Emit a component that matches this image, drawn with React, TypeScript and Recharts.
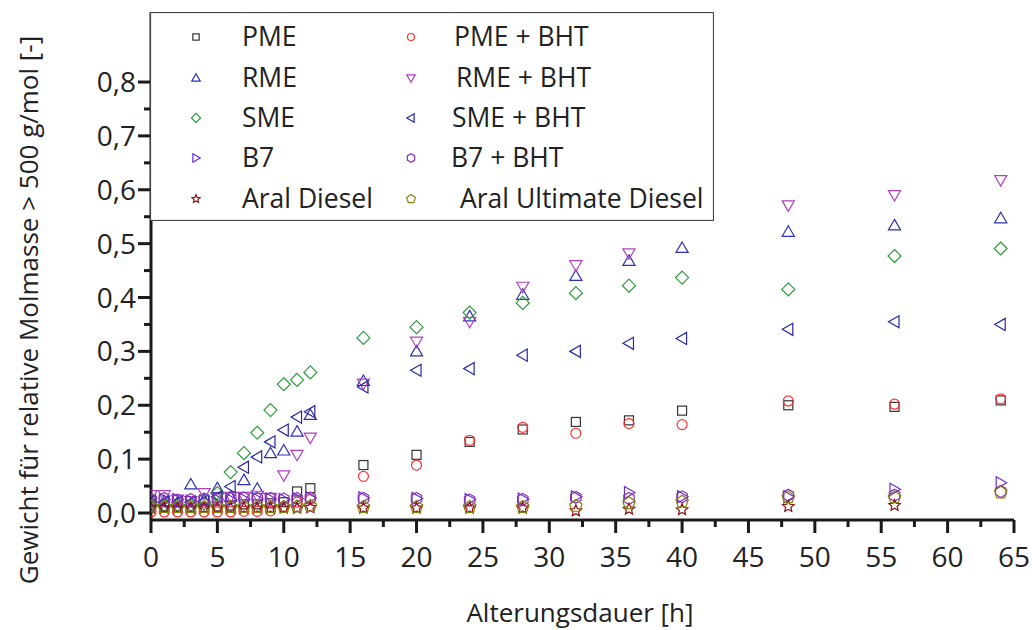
import { ScatterChart, Scatter, XAxis, YAxis } from 'recharts'

const TIME = [0, 1, 2, 3, 4, 5, 6, 7, 8, 9, 10, 11, 12, 16, 20, 24, 28, 32, 36, 40, 48, 56, 64]

const PME = [0.012, 0.012, 0.01, 0.01, 0.01, 0.012, 0.014, 0.016, 0.016, 0.018, 0.02, 0.04, 0.046, 0.089, 0.108, 0.132, 0.155, 0.169, 0.172, 0.19, 0.2, 0.197, 0.209]
const PME_BHT = [0.002, 0.002, 0.002, 0.002, 0.002, 0.002, 0.002, 0.003, 0.003, 0.004, 0.012, 0.02, 0.025, 0.068, 0.089, 0.135, 0.159, 0.148, 0.166, 0.164, 0.208, 0.202, 0.212]
const RME = [0.022, 0.022, 0.02, 0.053, 0.024, 0.046, 0.03, 0.061, 0.045, 0.111, 0.116, 0.151, 0.182, 0.245, 0.3, 0.365, 0.405, 0.44, 0.468, 0.492, 0.522, 0.534, 0.547]
const RME_BHT = [0.033, 0.033, 0.025, 0.022, 0.037, 0.028, 0.03, 0.03, 0.032, 0.028, 0.07, 0.108, 0.14, 0.24, 0.318, 0.355, 0.42, 0.46, 0.482, null, 0.571, 0.59, 0.618]
const SME = [0.02, 0.015, 0.015, 0.015, 0.018, 0.037, 0.076, 0.111, 0.149, 0.191, 0.239, 0.247, 0.261, 0.325, 0.345, 0.372, 0.39, 0.408, 0.422, 0.437, 0.415, 0.477, 0.491]
const SME_BHT = [0.022, 0.02, 0.02, 0.02, 0.022, 0.03, 0.049, 0.085, 0.104, 0.132, 0.154, 0.178, 0.188, 0.234, 0.265, 0.268, 0.293, 0.3, 0.315, 0.324, 0.341, 0.355, 0.35]
const B7 = [0.028, 0.025, 0.025, 0.022, 0.022, 0.025, 0.025, 0.026, 0.026, 0.026, 0.025, 0.027, 0.028, 0.028, 0.027, 0.025, 0.026, 0.03, 0.038, 0.03, 0.03, 0.044, 0.056]
const B7_BHT = [0.025, 0.027, 0.024, 0.025, 0.026, 0.025, 0.027, 0.028, 0.027, 0.027, 0.026, 0.027, 0.028, 0.027, 0.027, 0.024, 0.025, 0.029, 0.027, 0.03, 0.033, 0.033, 0.04]
const ARAL = [0.009, 0.009, 0.009, 0.009, 0.009, 0.009, 0.009, 0.009, 0.009, 0.009, 0.009, 0.009, 0.01, 0.009, 0.009, 0.009, 0.009, 0.004, 0.007, 0.006, 0.012, 0.014, null]
const ARAL_ULT = [0.012, 0.011, 0.011, 0.011, 0.011, 0.011, 0.011, 0.011, 0.011, 0.011, 0.011, 0.012, 0.013, 0.011, 0.011, 0.011, 0.011, 0.013, 0.018, 0.021, 0.029, 0.029, 0.038]

const X_TICKS = [0, 2.5, 5, 7.5, 10, 12.5, 15, 17.5, 20, 22.5, 25, 27.5, 30, 32.5, 35, 37.5, 40, 42.5, 45, 47.5, 50, 52.5, 55, 57.5, 60, 62.5, 65]
const Y_TICKS = [0, 0.05, 0.1, 0.15, 0.2, 0.25, 0.3, 0.35, 0.4, 0.45, 0.5, 0.55, 0.6, 0.65, 0.7, 0.75, 0.8]

type Kind = 'square' | 'circle' | 'up' | 'down' | 'diamond' | 'left' | 'right' | 'hexagon' | 'star' | 'pentagon'

const SERIES: { name: string; values: (number | null)[]; kind: Kind; color: string }[] = [
  { name: 'PME', values: PME, kind: 'square', color: '#333333' },
  { name: 'PME + BHT', values: PME_BHT, kind: 'circle', color: '#ff3030' },
  { name: 'RME', values: RME, kind: 'up', color: '#3030b0' },
  { name: 'RME + BHT', values: RME_BHT, kind: 'down', color: '#b040c0' },
  { name: 'SME', values: SME, kind: 'diamond', color: '#2e9a3e' },
  { name: 'SME + BHT', values: SME_BHT, kind: 'left', color: '#2828a0' },
  { name: 'B7', values: B7, kind: 'right', color: '#6a2ed0' },
  { name: 'B7 + BHT', values: B7_BHT, kind: 'hexagon', color: '#8a30b0' },
  { name: 'Aral Diesel', values: ARAL, kind: 'star', color: '#8b1010' },
  { name: 'Aral Ultimate Diesel', values: ARAL_ULT, kind: 'pentagon', color: '#888010' },
]

const FONT = '"Open Sans", sans-serif'
const AXIS = '#1a1a1a'

function poly(cx: number, cy: number, r: number, n: number, start: number, inner = 0) {
  const pts: string[] = []
  const count = inner ? n * 2 : n
  for (let i = 0; i < count; i++) {
    const rad = inner && i % 2 === 1 ? inner : r
    const a = ((start + (360 / count) * i) * Math.PI) / 180
    pts.push(`${(cx + rad * Math.cos(a)).toFixed(2)},${(cy + rad * Math.sin(a)).toFixed(2)}`)
  }
  return pts.join(' ')
}

function Marker({ kind, cx, cy, color, s = 1 }: { kind: Kind; cx: number; cy: number; color: string; s?: number }) {
  const common = { fill: 'none', stroke: color, strokeWidth: 1.2 }
  switch (kind) {
    case 'square':
      return <rect x={cx - 4.5 * s} y={cy - 4.5 * s} width={9 * s} height={9 * s} {...common} />
    case 'circle':
      return <circle cx={cx} cy={cy} r={5 * s} {...common} />
    case 'up':
      return <polygon points={poly(cx, cy + 1 * s, 7 * s, 3, -90)} {...common} />
    case 'down':
      return <polygon points={poly(cx, cy - 1 * s, 7 * s, 3, 90)} {...common} />
    case 'left':
      return <polygon points={poly(cx + 1 * s, cy, 7 * s, 3, 180)} {...common} />
    case 'right':
      return <polygon points={poly(cx - 1 * s, cy, 7 * s, 3, 0)} {...common} />
    case 'diamond':
      return <polygon points={poly(cx, cy, 6.5 * s, 4, -90)} {...common} />
    case 'hexagon':
      return <polygon points={poly(cx, cy, 6 * s, 6, -90)} {...common} />
    case 'pentagon':
      return <polygon points={poly(cx, cy, 6.5 * s, 5, -90)} {...common} />
    case 'star':
      return <polygon points={poly(cx, cy, 6 * s, 5, -90, 2.8 * s)} {...common} />
  }
}

function XTick(props: any) {
  const { x, y, payload } = props
  const v = payload.value as number
  const major = v % 5 === 0
  return (
    <g>
      <line x1={x} x2={x} y1={y} y2={y + (major ? 13 : 7)} stroke={AXIS} strokeWidth={3} />
      {major && (
        <text x={x} y={y + 47} textAnchor="middle" fontFamily={FONT} fontSize={28} fill="#222">
          {v}
        </text>
      )}
    </g>
  )
}

function YTick(props: any) {
  const { x, y, payload } = props
  const v = payload.value as number
  const major = Math.abs(Math.round(v * 10) - v * 10) < 1e-6
  return (
    <g>
      <line x1={x} x2={x - (major ? 13 : 7)} y1={y} y2={y} stroke={AXIS} strokeWidth={3} />
      {major && (
        <text x={x - 15} y={y + 10} textAnchor="end" fontFamily={FONT} fontSize={28} fill="#222">
          {v.toFixed(1).replace('.', ',')}
        </text>
      )}
    </g>
  )
}

const LEGEND_ROWS = [25, 66, 106, 146, 187]
const LEGEND_TEXT_X2 = [304, 306, 302, 301, 310]

function Legend() {
  return (
    <svg
      width={564}
      height={209}
      style={{ position: 'absolute', left: 149.5, top: 11.5 }}
    >
      <rect x={0.5} y={0.5} width={563} height={208} fill="#ffffff" stroke="#444" strokeWidth={1.2} />
      {SERIES.map((s, i) => {
        const col = i % 2
        const row = Math.floor(i / 2)
        const y = LEGEND_ROWS[row]
        const mx = col === 0 ? 46 : 261
        const tx = col === 0 ? 92 : LEGEND_TEXT_X2[row]
        return (
          <g key={s.name}>
            <Marker kind={s.kind} cx={mx} cy={y} color={s.color} s={0.7} />
            <text x={tx} y={y + 9} fontFamily={FONT} fontSize={26.5} fill="#222">
              {s.name}
            </text>
          </g>
        )
      })}
    </svg>
  )
}

export default function App() {
  return (
    <div style={{ position: 'absolute', left: 0, top: 0, width: 1032, height: 630, background: '#fff' }}>
      <ScatterChart width={1032} height={630} margin={{ top: 12, right: 18, bottom: 0, left: 0 }}>
        <XAxis
          type="number"
          dataKey="t"
          domain={[0, 65]}
          ticks={X_TICKS}
          interval={0}
          allowDataOverflow
          height={110}
          tickSize={0}
          tickMargin={0}
          tickLine={false}
          axisLine={{ stroke: AXIS, strokeWidth: 3 }}
          tick={<XTick />}
        />
        <YAxis
          type="number"
          dataKey="v"
          domain={[-0.013, 0.93]}
          ticks={Y_TICKS}
          interval={0}
          allowDataOverflow
          width={151}
          tickSize={0}
          tickMargin={0}
          tickLine={false}
          axisLine={{ stroke: AXIS, strokeWidth: 3 }}
          tick={<YTick />}
        />
        {SERIES.map((s) => (
          <Scatter
            key={s.name}
            name={s.name}
            data={TIME.map((t, i) => ({ t, v: s.values[i] })).filter((d) => d.v !== null)}
            isAnimationActive={false}
            shape={(p: any) => <Marker kind={s.kind} cx={p.cx} cy={p.cy} color={s.color} />}
          />
        ))}
      </ScatterChart>
      <Legend />
      <div
        style={{
          position: 'absolute',
          left: 0,
          top: 0,
          width: 1032,
          height: 630,
          pointerEvents: 'none',
          fontFamily: FONT,
          color: '#222',
        }}
      >
        <div
          style={{
            position: 'absolute',
            left: 28,
            top: 310,
            transform: 'translate(-50%, -50%) rotate(-90deg)',
            whiteSpace: 'nowrap',
            fontSize: 26,
            lineHeight: '30px',
          }}
        >
          Gewicht für relative Molmasse &gt; 500 g/mol [-]
        </div>
        <div
          style={{
            position: 'absolute',
            left: 580,
            top: 612,
            transform: 'translate(-50%, -50%)',
            whiteSpace: 'nowrap',
            fontSize: 26,
            lineHeight: '30px',
          }}
        >
          Alterungsdauer [h]
        </div>
      </div>
    </div>
  )
}
